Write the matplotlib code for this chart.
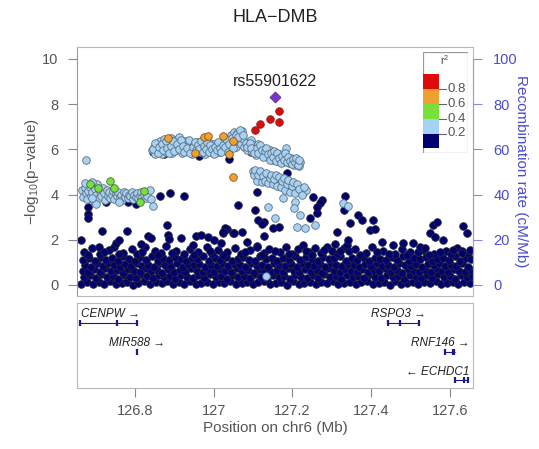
import matplotlib
matplotlib.use("Agg")
import matplotlib.pyplot as plt
import numpy as np

plt.rcParams['font.family'] = ['Liberation Sans', 'DejaVu Sans']

TITLE = "HLA\u2212DMB"
LEAD_NAME = "rs55901622"
LEAD = (127.157, 8.32)

# ---- data: (position Mb, -log10 p) ----
navy_band = [
 (126.664,0.05),(126.679,0.12),(126.693,0.02),(126.708,0.15),(126.722,0.06),(126.736,0.18),(126.751,0.03),(126.766,0.10),
 (126.780,0.14),(126.795,0.01),(126.809,0.08),(126.824,0.16),(126.838,0.04),(126.853,0.11),(126.868,0.07),(126.882,0.17),
 (126.897,0.02),(126.911,0.13),(126.926,0.06),(126.940,0.19),(126.955,0.04),(126.969,0.10),(126.984,0.15),(126.998,0.03),
 (127.013,0.12),(127.027,0.07),(127.042,0.18),(127.056,0.02),(127.071,0.09),(127.085,0.14),(127.100,0.05),(127.114,0.11),
 (127.129,0.16),(127.143,0.03),(127.158,0.08),(127.172,0.13),(127.187,0.01),(127.201,0.17),(127.216,0.06),(127.230,0.10),
 (127.245,0.15),(127.259,0.04),(127.274,0.12),(127.288,0.07),(127.303,0.18),(127.317,0.02),(127.332,0.09),(127.346,0.14),
 (127.361,0.05),(127.375,0.11),(127.390,0.16),(127.404,0.03),(127.419,0.08),(127.433,0.13),(127.448,0.01),(127.462,0.17),
 (127.477,0.06),(127.491,0.10),(127.506,0.15),(127.520,0.04),(127.535,0.12),(127.549,0.07),(127.564,0.18),(127.578,0.02),
 (127.593,0.09),(127.607,0.14),(127.622,0.05),(127.636,0.11),(127.651,0.08),
 (126.671,0.35),(126.686,0.42),(126.700,0.30),(126.715,0.47),(126.729,0.33),(126.744,0.40),(126.758,0.28),(126.773,0.45),
 (126.787,0.36),(126.802,0.31),(126.816,0.48),(126.831,0.38),(126.845,0.29),(126.860,0.44),(126.874,0.34),(126.889,0.41),
 (126.903,0.27),(126.918,0.46),(126.932,0.37),(126.947,0.32),(126.961,0.43),(126.976,0.30),(126.990,0.49),(127.005,0.35),
 (127.019,0.40),(127.034,0.28),(127.048,0.45),(127.063,0.33),(127.077,0.38),(127.092,0.31),(127.106,0.47),(127.121,0.36),
 (127.135,0.29),(127.150,0.42),(127.165,0.34),(127.179,0.40),(127.194,0.27),(127.208,0.46),(127.223,0.37),(127.237,0.32),
 (127.252,0.44),(127.266,0.30),(127.281,0.48),(127.295,0.35),(127.310,0.41),(127.324,0.28),(127.339,0.45),(127.353,0.33),
 (127.368,0.39),(127.382,0.31),(127.397,0.47),(127.411,0.36),(127.426,0.29),(127.440,0.43),(127.455,0.34),(127.469,0.40),
 (127.484,0.27),(127.498,0.46),(127.513,0.37),(127.527,0.32),(127.542,0.44),(127.556,0.30),(127.571,0.48),(127.585,0.35),
 (127.600,0.41),(127.614,0.28),(127.629,0.45),(127.643,0.33),(127.656,0.39),
 (126.667,0.62),(126.682,0.55),(126.696,0.70),(126.711,0.58),(126.725,0.74),(126.740,0.60),(126.754,0.66),(126.769,0.53),
 (126.783,0.71),(126.798,0.63),(126.812,0.57),(126.827,0.73),(126.841,0.61),(126.856,0.67),(126.870,0.54),(126.885,0.72),
 (126.899,0.59),(126.914,0.65),(126.928,0.56),(126.943,0.75),(126.957,0.62),(126.972,0.58),(126.986,0.69),(127.001,0.55),
 (127.015,0.71),(127.030,0.63),(127.044,0.57),(127.059,0.74),(127.073,0.60),(127.088,0.66),(127.102,0.53),(127.117,0.72),
 (127.131,0.61),(127.146,0.58),(127.160,0.68),(127.175,0.55),(127.189,0.73),(127.204,0.62),(127.218,0.57),(127.233,0.70),
 (127.247,0.59),(127.262,0.65),(127.276,0.54),(127.291,0.74),(127.305,0.61),(127.320,0.56),(127.334,0.69),(127.349,0.63),
 (127.363,0.58),(127.378,0.72),(127.392,0.55),(127.407,0.67),(127.421,0.60),(127.436,0.74),(127.450,0.57),(127.465,0.64),
 (127.479,0.53),(127.494,0.71),(127.508,0.62),(127.523,0.58),(127.537,0.68),(127.552,0.55),(127.566,0.73),(127.581,0.61),
 (127.595,0.57),(127.610,0.70),(127.624,0.63),(127.639,0.59),(127.653,0.66),
 (126.674,0.88),(126.689,0.81),(126.703,0.95),(126.718,0.84),(126.732,0.99),(126.747,0.86),(126.761,0.79),(126.776,0.93),
 (126.790,0.85),(126.805,0.97),(126.819,0.82),(126.834,0.90),(126.848,0.78),(126.863,0.96),(126.877,0.87),(126.892,0.83),
 (126.906,0.98),(126.921,0.80),(126.935,0.91),(126.950,0.86),(126.964,0.94),(126.979,0.79),(126.993,0.89),(127.008,0.84),
 (127.022,0.97),(127.037,0.82),(127.051,0.92),(127.066,0.87),(127.080,0.78),(127.095,0.95),(127.109,0.85),(127.124,0.90),
 (127.138,0.81),(127.153,0.98),(127.167,0.86),(127.182,0.83),(127.196,0.93),(127.211,0.79),(127.225,0.96),(127.240,0.88),
 (127.254,0.84),(127.269,0.91),(127.283,0.80),(127.298,0.97),(127.312,0.86),(127.327,0.82),(127.341,0.94),(127.356,0.89),
 (127.370,0.78),(127.385,0.92),(127.399,0.85),(127.414,0.99),(127.428,0.83),(127.443,0.90),(127.457,0.80),(127.472,0.96),
 (127.486,0.87),(127.501,0.84),(127.515,0.93),(127.530,0.79),(127.544,0.91),(127.559,0.86),(127.573,0.97),(127.588,0.82),
 (127.602,0.89),(127.617,0.85),(127.631,0.95),(127.646,0.81),
 (126.669,1.12),(126.684,1.20),(126.698,1.06),(126.713,1.25),(126.727,1.10),(126.742,1.18),(126.756,1.04),(126.771,1.28),
 (126.785,1.14),(126.800,1.08),(126.814,1.22),(126.829,1.11),(126.843,1.26),(126.858,1.05),(126.872,1.17),(126.887,1.09),
 (126.901,1.24),(126.916,1.13),(126.930,1.07),(126.945,1.21),(126.959,1.15),(126.974,1.29),(126.988,1.06),(127.003,1.19),
 (127.017,1.12),(127.032,1.25),(127.046,1.08),(127.061,1.16),(127.075,1.23),(127.090,1.10),(127.104,1.05),(127.119,1.27),
 (127.133,1.14),(127.148,1.20),(127.162,1.07),(127.177,1.18),(127.191,1.11),(127.206,1.26),(127.220,1.09),(127.235,1.22),
 (127.249,1.15),(127.264,1.05),(127.278,1.24),(127.293,1.13),(127.307,1.19),(127.322,1.28),(127.336,1.08),(127.351,1.17),
 (127.365,1.12),(127.380,1.25),(127.394,1.06),(127.409,1.20),(127.423,1.14),(127.438,1.09),(127.452,1.23),(127.467,1.11),
 (127.481,1.27),(127.496,1.07),(127.510,1.18),(127.525,1.13),(127.539,1.24),(127.554,1.05),(127.568,1.16),(127.583,1.21),
 (127.597,1.10),(127.612,1.26),(127.626,1.08),(127.641,1.19),(127.655,1.14),
 (126.670,1.45),(126.690,1.62),(126.712,1.38),(126.735,1.55),(126.748,1.70),(126.770,1.42),(126.793,1.58),(126.806,1.36),
 (126.826,1.66),(126.850,1.48),(126.866,1.40),(126.880,1.72),(126.905,1.52),(126.925,1.37),(126.939,1.60),(126.960,1.44),
 (126.982,1.68),(126.997,1.39),(127.012,1.56),(127.035,1.46),(127.055,1.64),(127.070,1.35),(127.093,1.53),(127.110,1.74),
 (127.128,1.41),(127.141,1.59),(127.168,1.47),(127.185,1.66),(127.200,1.38),(127.215,1.57),(127.228,1.75),(127.242,1.45),
 (127.257,1.62),(127.272,1.40),(127.287,1.70),(127.300,1.50),(127.315,1.36),(127.330,1.63),(127.345,1.48),(127.360,1.58),
 (127.388,1.42),(127.402,1.67),(127.430,1.52),(127.460,1.39),(127.478,1.60),(127.500,1.45),(127.532,1.56),(127.560,1.38),
 (127.590,1.50),(127.618,1.65),(127.645,1.42),
 (126.680,1.33),(126.722,1.46),(126.760,1.35),(126.818,1.44),(126.858,1.32),(126.895,1.41),(126.950,1.33),(126.990,1.50),
 (127.025,1.34),(127.080,1.45),(127.122,1.33),(127.155,1.52),(127.192,1.36),(127.235,1.48),(127.250,1.34),(127.280,1.56),
 (127.308,1.80),(127.322,1.50),(127.338,1.76),(127.372,1.34),(127.415,1.47),(127.445,1.35),(127.490,1.34),(127.518,1.46),
 (127.546,1.33),(127.575,1.47),(127.603,1.36),(127.632,1.50),
]

navy_upper = [
 (126.663,1.99),(126.709,1.68),(126.752,1.86),(126.759,1.99),(126.833,2.17),(126.841,2.08),(126.815,1.81),(126.884,2.21),
 (126.886,2.04),(126.916,2.08),(126.954,2.17),(126.967,2.21),(126.985,2.12),(127.000,1.99),(127.025,2.30),(127.035,2.48),
 (127.048,2.30),(127.073,2.35),(126.947,1.77),(127.018,1.86),(127.086,1.90),(127.127,2.17),(127.111,1.68),(127.127,2.79),
 (127.152,2.52),(127.165,2.57),(127.246,2.96),(127.276,3.76),(127.263,3.19),
 (126.716,2.39),(126.780,2.39),(126.881,2.65),(127.030,2.52),(127.023,2.35),(127.051,2.30),
 (126.681,3.45),(126.681,3.14),(126.681,2.96),(126.727,3.67),(126.782,3.67),(126.803,3.58),
 (126.863,3.94),(126.889,4.07),(126.924,3.94),
 (127.063,3.54),(127.106,3.32),(127.114,2.88),(127.124,2.70),
 (127.253,3.89),(127.271,3.63),(127.263,3.45),(127.334,3.94),(127.332,3.32),(127.367,3.10),(127.377,2.88),(127.405,2.88),
 (127.347,2.74),(127.314,2.35),(127.342,1.99),(127.397,2.43),(127.410,2.48),(127.428,1.90),(127.456,1.77),(127.481,1.86),
 (127.506,1.86),(127.524,1.68),(127.537,1.64),(127.557,2.65),(127.567,2.79),(127.549,2.30),(127.562,2.12),(127.582,1.99),
 (127.633,2.61),(127.643,2.30),(127.608,1.55),(127.630,1.42),(127.651,1.55),
 (126.846,5.90),(126.873,5.80),(126.962,5.70),(127.038,5.58),
 (127.086,6.28),(127.089,6.10),(127.094,5.88),(127.111,4.12),(127.187,4.96),
]

lightblue_pts = [
 (126.665,4.20),(126.668,3.90),(126.672,4.30),(126.675,4.05),(126.678,3.80),(126.682,4.15),(126.685,4.35),(126.688,3.95),
 (126.692,4.10),(126.695,3.70),(126.698,4.25),(126.702,4.00),(126.705,4.45),(126.708,3.85),(126.712,4.15),(126.715,3.95),
 (126.718,4.30),(126.722,4.05),(126.725,3.75),(126.728,4.20),(126.732,3.95),(126.735,4.10),(126.738,3.85),(126.742,4.00),
 (126.745,4.15),(126.748,3.80),(126.752,4.05),(126.755,3.95),(126.758,4.10),(126.762,3.90),(126.765,4.00),(126.768,3.75),
 (126.772,4.10),(126.775,3.90),(126.778,4.05),(126.782,3.85),(126.785,4.00),(126.788,3.95),(126.792,4.10),(126.795,3.80),
 (126.798,4.00),(126.802,3.90),(126.805,4.05),(126.808,3.85),(126.812,3.95),(126.815,4.10),(126.818,3.90),(126.822,4.00),
 (126.828,3.85),(126.832,3.95),(126.838,4.20),(126.842,3.80),
 (126.676,5.53),(126.690,4.55),(126.672,4.50),(126.700,3.60),(126.760,3.65),(126.846,3.50),(126.690,3.85),
 (126.843,5.95),(126.848,6.10),(126.852,5.80),(126.856,6.22),(126.860,5.92),(126.864,6.35),(126.867,6.05),(126.870,5.78),
 (126.874,6.45),(126.877,6.15),(126.880,5.90),(126.884,6.30),(126.888,6.02),(126.891,6.52),(126.895,5.85),(126.898,6.20),
 (126.902,6.40),(126.905,5.95),(126.909,6.12),(126.913,6.55),(126.916,6.28),(126.920,5.82),(126.924,6.05),(126.928,6.38),
 (126.931,6.18),(126.935,5.92),(126.939,6.30),(126.943,6.08),(126.946,5.78),(126.950,6.22),(126.954,6.00),(126.958,6.33),
 (126.962,6.12),(126.966,5.88),(126.970,6.25),(126.974,6.05),(126.978,5.80),(126.982,6.18),(126.986,5.95),(126.990,6.30),
 (126.994,6.08),(126.998,5.85),(127.002,6.22),(127.006,6.02),(127.010,6.15),(127.014,5.90),(127.018,6.28),(127.022,6.05),
 (127.026,6.35),(127.030,5.95),(127.034,6.18),(127.038,6.42),(127.041,6.05),(127.044,6.62),(127.048,6.25),(127.051,6.78),
 (127.054,6.45),(127.057,6.12),(127.060,6.72),(127.063,6.35),(127.066,6.58),(127.069,6.22),(127.072,6.80),(127.075,6.48),
 (127.078,6.10),
 (126.846,6.02),(126.851,6.28),(126.858,5.85),(126.862,6.12),(126.869,6.25),(126.872,5.98),(126.879,6.38),(126.882,6.08),
 (126.886,5.82),(126.893,6.15),(126.897,6.35),(126.900,5.92),(126.907,6.25),(126.911,6.02),(126.918,6.42),(126.922,6.15),
 (126.926,5.90),(126.933,6.05),(126.937,6.42),(126.941,5.85),(126.948,6.12),(126.952,6.32),(126.956,5.95),(126.960,6.20),
 (126.964,6.02),(126.968,6.38),(126.972,5.88),(126.976,6.15),(126.980,6.00),(126.984,6.32),(126.988,5.90),(126.992,6.18),
 (126.996,6.00),(127.000,5.78),(127.004,6.10),(127.008,5.95),(127.012,6.32),(127.016,6.08),(127.020,5.88),(127.024,6.20),
 (127.028,6.10),(127.032,6.48),(127.036,5.90),(127.040,6.25),(127.046,6.50),(127.050,6.05),(127.056,6.65),(127.062,6.55),
 (127.068,6.85),(127.074,6.62),
 (127.082,6.30),(127.086,5.95),(127.090,6.15),(127.094,6.40),(127.098,5.88),(127.101,6.20),(127.105,6.02),(127.108,5.75),
 (127.112,6.25),(127.116,5.92),(127.120,6.10),(127.124,5.80),(127.128,6.00),(127.132,5.70),(127.136,5.88),(127.140,5.62),
 (127.144,5.95),(127.148,5.72),(127.152,5.55),(127.156,5.85),(127.160,5.65),(127.164,5.50),(127.168,5.78),(127.172,5.60),
 (127.176,5.45),(127.180,5.70),(127.184,6.05),(127.188,5.55),(127.192,5.38),(127.196,5.62),(127.200,5.48),(127.204,5.30),
 (127.208,5.55),(127.212,5.40),(127.216,5.25),(127.220,5.45),
 (127.084,6.12),(127.092,6.30),(127.096,6.05),(127.103,5.85),(127.110,6.05),(127.114,5.82),(127.118,6.20),(127.122,5.95),
 (127.126,5.68),(127.130,5.92),(127.134,6.05),(127.138,5.78),(127.142,5.55),(127.146,5.85),(127.150,5.68),(127.154,5.92),
 (127.158,5.48),(127.162,5.82),(127.166,5.62),(127.170,5.40),(127.174,5.72),(127.178,5.52),(127.182,5.85),(127.186,5.42),
 (127.190,5.68),(127.194,5.50),(127.198,5.35),(127.202,5.58),(127.206,5.42),(127.210,5.62),(127.214,5.32),(127.218,5.52),
 (127.100,5.05),(127.104,4.85),(127.108,5.00),(127.112,4.78),(127.116,4.95),(127.120,4.70),(127.124,4.90),(127.128,4.75),
 (127.132,4.88),(127.136,4.65),(127.140,4.82),(127.144,4.70),(127.148,4.60),(127.152,4.78),(127.156,4.55),(127.160,4.72),
 (127.164,4.62),(127.168,4.50),(127.172,4.68),(127.176,4.45),(127.180,4.60),(127.184,4.38),(127.188,4.55),(127.192,4.30),
 (127.196,4.48),(127.200,4.25),(127.205,4.40),(127.210,4.15),(127.215,4.32),(127.220,4.10),(127.228,4.05),(127.235,4.20),
 (127.102,4.88),(127.106,5.10),(127.110,4.62),(127.114,4.88),(127.118,5.05),(127.122,4.55),(127.126,4.82),(127.130,4.62),
 (127.134,4.95),(127.138,4.50),(127.142,4.75),(127.146,4.88),(127.150,4.48),(127.154,4.68),(127.158,4.85),(127.162,4.40),
 (127.166,4.78),(127.170,4.35),(127.174,4.58),(127.178,4.75),(127.182,4.22),(127.186,4.48),(127.190,4.65),(127.194,4.12),
 (127.198,4.38),(127.202,4.55),(127.207,4.05),(127.212,4.45),(127.218,4.25),(127.224,3.98),(127.230,4.35),
 (127.177,3.85),(127.208,3.67),(127.203,3.41),(127.137,3.45),(127.157,2.96),(127.213,2.57),(127.233,2.52),(127.258,2.65),
 (127.329,3.63),(127.342,3.50),(127.134,0.40),(127.220,3.10),
]

green_pts = [(126.686,4.47),(126.706,4.29),(126.737,4.60),(126.747,4.29),(126.823,4.16),(126.813,3.67)]

orange_pts = [(126.884,6.50),(126.975,6.55),(126.987,6.59),(127.025,6.59),(127.048,6.37),
              (126.952,5.84),(127.038,5.80),(127.048,4.78)]

red_pts = [(127.106,6.86),(127.119,7.12),(127.144,7.35),(127.167,7.21),(127.165,7.70)]

# genes: name, start, end, exons, row, direction
genes = [
 ("CENPW", 126.658, 126.805, [126.660, 126.754, 126.805], 0, 1),
 ("MIR588", 126.805, 126.806, [126.805], 1, 1),
 ("RSPO3", 127.443, 127.521, [127.443, 127.473, 127.521], 0, 1),
 ("RNF146", 127.587, 127.613, [127.589, 127.607, 127.611], 1, 1),
 ("ECHDC1", 127.610, 127.646, [127.612, 127.635, 127.645], 2, -1),
]

r2_colors = ['#000070', '#A5D2F5', '#77E03A', '#F0A030', '#E00A0A']
r2_edges = ['#262636', '#5f6f7f', '#4a6a3a', '#7a5a2a', '#7a2a2a']
lead_color = '#7A35C8'
legend_ticks = ['0.8', '0.6', '0.4', '0.2']

xticks = [126.8, 127.0, 127.2, 127.4, 127.6]
xtick_labels = ['126.8', '127', '127.2', '127.4', '127.6']
yticks = [0, 2, 4, 6, 8, 10]
rticks = [0, 20, 40, 60, 80, 100]

XLIM = (126.653, 127.659)
YLIM = (-0.49, 10.53)
grey = '#555555'
blue = '#4B4BCF'
frame = '#b8b8b8'

fig = plt.figure(figsize=(5.39, 4.49), dpi=100)
ax = fig.add_axes([0.1429, 0.3408, 0.7347, 0.5545])
gax = fig.add_axes([0.1429, 0.1359, 0.7347, 0.1893])

def sc(pts, c, ec, z):
    xs = [p[0] for p in pts]; ys = [p[1] for p in pts]
    ax.scatter(xs, ys, s=30, c=c, edgecolors=ec, linewidths=0.6, zorder=z)

sc(navy_band + navy_upper, r2_colors[0], r2_edges[0], 2)
sc(lightblue_pts, r2_colors[1], r2_edges[1], 3)
sc(green_pts, r2_colors[2], r2_edges[2], 4)
sc(orange_pts, r2_colors[3], r2_edges[3], 5)
sc(red_pts, r2_colors[4], r2_edges[4], 6)
ax.scatter([LEAD[0]], [LEAD[1]], s=32, marker='D', c=lead_color, edgecolors='#4a2a7a', linewidths=0.5, zorder=7)
ax.text(LEAD[0], LEAD[1] + 0.68, LEAD_NAME, ha='center', va='center', fontsize=11.5, color='#222222')

ax.set_xlim(*XLIM)
ax.set_ylim(*YLIM)
ax.set_xticks([])
ax.set_yticks(yticks)
ax.set_yticklabels([str(t) for t in yticks])
ax.tick_params(axis='y', direction='out', length=6.5, width=0.8, color='#888888', labelcolor=grey, labelsize=10.5, pad=7)
for s in ax.spines.values():
    s.set_color(frame)
ax.spines['left'].set_color('#999999')
ax.set_ylabel('\u2212log$_{\\mathregular{10}}$(p\u2212value)', fontsize=11, color=grey, labelpad=6)
ax.yaxis.set_label_coords(-0.092, 0.5)

ax2 = ax.twinx()
ax2.set_ylim(YLIM[0] * 10, YLIM[1] * 10)
ax2.set_yticks(rticks)
ax2.tick_params(axis='y', direction='out', length=6.5, width=0.8, color='#8888DD', labelcolor=blue, labelsize=10.5, pad=8)
for s in ax2.spines.values():
    s.set_visible(False)
ax2.spines['right'].set_visible(True)
ax2.spines['right'].set_color('#9a9ae0')
ax2.spines['right'].set_bounds(0, 100)
ax2.set_ylabel('Recombination rate (cM/Mb)', fontsize=11, color=blue, rotation=270, labelpad=14)
ax2.yaxis.set_label_coords(1.14, 0.5)

# legend box
lax = fig.add_axes([423/539, 1 - 153/449, 45/539, 101/449])
lax.set_xlim(0, 45); lax.set_ylim(153, 52)
lax.axis('off')
lax.add_patch(plt.Rectangle((0, 52), 45, 101, fill=False, edgecolor='#999999', lw=0.9))
bounds = [74, 88.5, 104, 119, 133.5, 148]
for i, col in enumerate(r2_colors[::-1]):
    lax.add_patch(plt.Rectangle((0, bounds[i]), 16, bounds[i+1] - bounds[i], facecolor=col, edgecolor='none'))
for i, lab in enumerate(legend_ticks):
    yb = bounds[i+1]
    lax.plot([16, 23], [yb, yb], color='#666666', lw=0.8)
    lax.text(24, yb, lab, ha='left', va='center', fontsize=9.5, color=grey)
lax.text(22, 60, 'r$^{\\mathregular{2}}$', ha='center', va='center', fontsize=7.5, color='#444444')

fig.text(0.51, 1 - 18/449, TITLE, ha='center', va='center', fontsize=13, color='#222222')

# gene panel
gax.set_xlim(*XLIM)
gax.set_ylim(0, 1)
for s in gax.spines.values():
    s.set_color(frame)
gax.set_yticks([])
gax.set_xticks(xticks)
gax.set_xticklabels(xtick_labels)
gax.tick_params(axis='x', direction='out', length=6.5, width=0.8, color='#888888', labelcolor=grey, labelsize=10.5, pad=5)
gax.set_xlabel('Position on chr6 (Mb)', fontsize=11, color=grey, labelpad=2)

row_line = [0.765, 0.424, 0.094]
row_text = [0.871, 0.529, 0.188]
gene_col = '#1a1a90'
for name, st, en, ex, row, d in genes:
    yl = row_line[row]
    gax.plot([st, en], [yl, yl], color=gene_col, lw=0.8, solid_capstyle='butt')
    for e in ex:
        gax.plot([e, e], [yl - 0.035, yl + 0.035], color=gene_col, lw=1.6, solid_capstyle='butt')
    if name == 'RNF146':
        gax.plot([127.605, 127.613], [yl, yl], color=gene_col, lw=4, solid_capstyle='butt')
    lab = (name + ' \u2192') if d > 0 else ('\u2190 ' + name)
    if name in ('RNF146', 'ECHDC1'):
        gax.text(127.650, row_text[row], lab, ha='right', va='center', fontsize=8.5, style='italic', color='#222222')
    elif name == 'CENPW':
        gax.text(126.663, row_text[row], lab, ha='left', va='center', fontsize=8.5, style='italic', color='#222222')
    elif name == 'MIR588':
        gax.text(126.806, row_text[row], lab, ha='center', va='center', fontsize=8.5, style='italic', color='#222222')
    else:
        gax.text(127.469, row_text[row], lab, ha='center', va='center', fontsize=8.5, style='italic', color='#222222')

fig.savefig('out.png', dpi=100)
